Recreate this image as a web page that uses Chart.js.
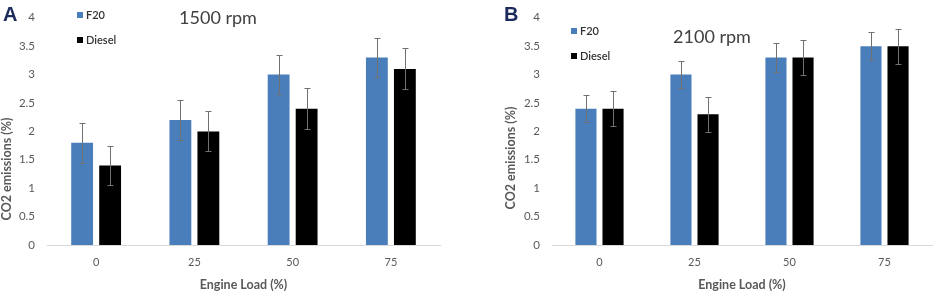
<!DOCTYPE html>
<html>
<head>
<meta charset="utf-8">
<script src="https://cdn.jsdelivr.net/npm/chart.js@4.4.1/dist/chart.umd.min.js"></script>
<style>
  html, body { margin: 0; padding: 0; background: #fff; }
  #wrap { position: relative; width: 934px; height: 293px; overflow: hidden; }
  canvas { position: absolute; top: 0; }
  #chartA { left: 0; }
  #chartB { left: 464px; }
</style>
</head>
<body>
<div id="wrap">
  <canvas id="chartA" width="464" height="293"></canvas>
  <canvas id="chartB" width="470" height="293"></canvas>
</div>
<script>
const loads = ['0', '25', '50', '75'];
const seriesNames = ['F20', 'Diesel'];
const seriesColors = ['#4a7ebb', '#000000'];

// panel A, 1500 rpm
const f20_1500 = [1.8, 2.2, 3.0, 3.3];
const diesel_1500 = [1.4, 2.0, 2.4, 3.1];
const f20Err_1500 = [0.35, 0.35, 0.35, 0.35];
const dieselErr_1500 = [0.35, 0.35, 0.36, 0.36];

// panel B, 2100 rpm
const f20_2100 = [2.4, 3.0, 3.3, 3.5];
const diesel_2100 = [2.4, 2.3, 3.3, 3.5];
const f20Err_2100 = [0.24, 0.24, 0.25, 0.25];
const dieselErr_2100 = [0.31, 0.31, 0.31, 0.31];

const FONT = 'Lato, "Open Sans", sans-serif';
const GREY = '#595959';

// error bars + legend + titles drawn on top of the bars
const decor = {
    id: 'decor',
    afterDatasetsDraw(chart, args, opts) {
        const ctx = chart.ctx;
        const yScale = chart.scales.y;

        ctx.save();
        ctx.strokeStyle = '#707070';
        ctx.lineWidth = 1;
        chart.data.datasets.forEach((ds, i) => {
            const meta = chart.getDatasetMeta(i);
            meta.data.forEach((bar, j) => {
                const v = ds.data[j];
                const e = ds.errors[j];
                const x = Math.round(bar.x) + 0.5;
                const yTop = Math.round(yScale.getPixelForValue(v + e)) + 0.5;
                const yBot = Math.round(yScale.getPixelForValue(v - e)) + 0.5;
                ctx.beginPath();
                ctx.moveTo(x, yTop);
                ctx.lineTo(x, yBot);
                ctx.moveTo(x - 3, yTop);
                ctx.lineTo(x + 3, yTop);
                ctx.moveTo(x - 3, yBot);
                ctx.lineTo(x + 3, yBot);
                ctx.stroke();
            });
        });
        ctx.restore();

        // legend
        ctx.save();
        ctx.textBaseline = 'middle';
        ctx.font = '600 11px ' + FONT;
        chart.data.datasets.forEach((ds, i) => {
            const y = opts.legendY + i * opts.legendGap;
            ctx.fillStyle = ds.backgroundColor;
            ctx.fillRect(opts.legendX, y - 3, 6, 6);
            ctx.fillStyle = '#333333';
            ctx.fillText(ds.label, opts.legendX + 9, y);
        });
        ctx.restore();

        // panel letter
        ctx.save();
        ctx.fillStyle = '#1c2a5c';
        ctx.font = 'bold 20px "Liberation Sans", Arial, sans-serif';
        ctx.textBaseline = 'alphabetic';
        ctx.fillText(opts.letter, opts.letterX, 21);

        // rpm title
        ctx.fillStyle = '#404040';
        ctx.font = '18px ' + FONT;
        ctx.textAlign = 'center';
        ctx.textBaseline = 'middle';
        ctx.fillText(opts.title, opts.titleX, opts.titleY);

        // y axis title
        ctx.translate(opts.yTitleX, opts.yTitleY);
        ctx.rotate(-Math.PI / 2);
        ctx.fillStyle = GREY;
        ctx.font = 'bold 12.5px ' + FONT;
        ctx.fillText('CO2 emissions (%)', 0, 0);
        ctx.restore();
    }
};

function makeChart(id, f20, diesel, f20Err, dieselErr, extra) {
    return new Chart(document.getElementById(id), {
        type: 'bar',
        data: {
            labels: loads,
            datasets: [
                { label: seriesNames[0], data: f20, errors: f20Err, backgroundColor: seriesColors[0] },
                { label: seriesNames[1], data: diesel, errors: dieselErr, backgroundColor: seriesColors[1] }
            ]
        },
        options: {
            responsive: false,
            devicePixelRatio: 1,
            animation: false,
            categoryPercentage: 0.57,
            barPercentage: 0.78,
            layout: { padding: { left: 0, right: extra.rightPad, top: 5, bottom: 0 } },
            plugins: {
                legend: { display: false },
                tooltip: { enabled: false },
                decor: extra
            },
            scales: {
                x: {
                    grid: { display: false, drawTicks: false },
                    border: { display: true, color: '#d9d9d9', width: 1 },
                    ticks: { color: GREY, font: { family: FONT, size: 11 }, padding: 11 },
                    title: {
                        display: true, text: 'Engine Load (%)', color: GREY,
                        font: { family: FONT, size: 12.5, weight: 'bold' },
                        padding: { top: 4, bottom: 1 }
                    },
                    afterFit: s => { s.height = 48; }
                },
                y: {
                    min: 0, max: 4,
                    grid: { display: false, drawTicks: false },
                    border: { display: false },
                    ticks: {
                        stepSize: 0.5, color: GREY, padding: 12,
                        font: { family: FONT, size: 11.5, lineHeight: 1 },
                        callback: v => String(v)
                    },
                    afterFit: s => { s.width = extra.yWidth; }
                }
            }
        },
        plugins: [decor]
    });
}

makeChart('chartA', f20_1500, diesel_1500, f20Err_1500, dieselErr_1500, {
    letter: 'A', letterX: 3, title: '1500 rpm', titleX: 218, titleY: 18,
    legendX: 77, legendY: 15, legendGap: 25, yTitleX: 7, yTitleY: 169,
    yWidth: 47, rightPad: 24
});

makeChart('chartB', f20_2100, diesel_2100, f20Err_2100, dieselErr_2100, {
    letter: 'B', letterX: 40, title: '2100 rpm', titleX: 248, titleY: 37,
    legendX: 107, legendY: 31, legendGap: 25, yTitleX: 47, yTitleY: 158,
    yWidth: 88, rightPad: 2
});
</script>
</body>
</html>
